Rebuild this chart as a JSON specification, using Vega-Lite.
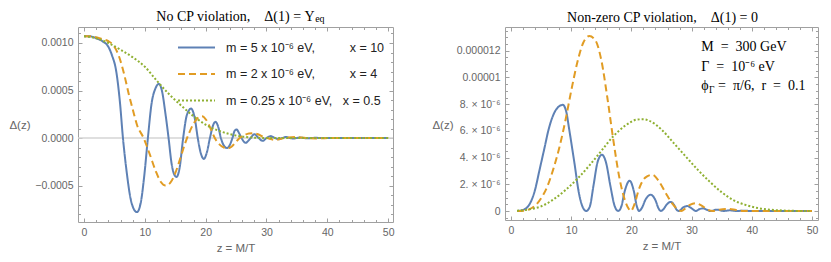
{
  "$schema": "https://vega.github.io/schema/vega-lite/v6.json",
  "background": "white",
  "padding": {"left": 8, "top": 9, "right": 5, "bottom": 5},
  "datasets": {
    "left": [
      {"s":"a","z":0,"v":0.00107},{"s":"a","z":1,"v":0.00107},{"s":"a","z":2,"v":0.00105},{"s":"a","z":3,"v":0.00102},{"s":"a","z":4,"v":0.00096},{"s":"a","z":4.6,"v":0.00087},{"s":"a","z":5.3,"v":0.0007},{"s":"a","z":5.9,"v":0.00038},{"s":"a","z":6.4,"v":0},{"s":"a","z":7.0,"v":-0.00035},{"s":"a","z":7.6,"v":-0.00062},{"s":"a","z":8.2,"v":-0.00075},{"s":"a","z":8.7,"v":-0.00078},{"s":"a","z":9.3,"v":-0.00069},{"s":"a","z":9.9,"v":-0.0004},{"s":"a","z":10.5,"v":0},{"s":"a","z":11.1,"v":0.00036},{"s":"a","z":11.8,"v":0.00053},{"s":"a","z":12.3,"v":0.00057},{"s":"a","z":12.8,"v":0.0005},{"s":"a","z":13.4,"v":0.00025},{"s":"a","z":13.9,"v":0},{"s":"a","z":14.4,"v":-0.00027},{"s":"a","z":14.8,"v":-0.00038},{"s":"a","z":15.2,"v":-0.00041},{"s":"a","z":15.7,"v":-0.00032},{"s":"a","z":16.3,"v":0},{"s":"a","z":16.9,"v":0.00024},{"s":"a","z":17.6,"v":0.00031},{"s":"a","z":18.2,"v":0.00021},{"s":"a","z":18.7,"v":0},{"s":"a","z":19.2,"v":-0.00016},{"s":"a","z":19.7,"v":-0.00022},{"s":"a","z":20.2,"v":-0.00015},{"s":"a","z":20.7,"v":0},{"s":"a","z":21.2,"v":0.00013},{"s":"a","z":21.6,"v":0.00017},{"s":"a","z":22.1,"v":0.00011},{"s":"a","z":22.5,"v":0},{"s":"a","z":23.0,"v":-0.00008},{"s":"a","z":23.5,"v":-0.000105},{"s":"a","z":24.0,"v":-0.00007},{"s":"a","z":24.4,"v":0},{"s":"a","z":24.8,"v":0.00008},{"s":"a","z":25.1,"v":0.00009},{"s":"a","z":25.5,"v":0.00005},{"s":"a","z":25.9,"v":0},{"s":"a","z":26.3,"v":-0.00004},{"s":"a","z":26.6,"v":-0.00005},{"s":"a","z":27.0,"v":-0.00003},{"s":"a","z":27.4,"v":0},{"s":"a","z":28.0,"v":0.00004},{"s":"a","z":28.7,"v":0},{"s":"a","z":29.4,"v":-0.00003},{"s":"a","z":30.0,"v":0},{"s":"a","z":30.7,"v":0.00002},{"s":"a","z":31.4,"v":0},{"s":"a","z":32.0,"v":-0.000012},{"s":"a","z":32.6,"v":0},{"s":"a","z":33.2,"v":0.00001},{"s":"a","z":33.8,"v":0},{"s":"a","z":34.4,"v":-0.000006},{"s":"a","z":35.0,"v":0},{"s":"a","z":35.5,"v":0.000005},{"s":"a","z":36.1,"v":0},{"s":"a","z":36.7,"v":-0.000003},{"s":"a","z":37.3,"v":0},{"s":"a","z":38,"v":0.000002},{"s":"a","z":39,"v":0},{"s":"a","z":50,"v":0},
      {"s":"b","z":0,"v":0.00107},{"s":"b","z":1,"v":0.00107},{"s":"b","z":2,"v":0.00106},{"s":"b","z":3,"v":0.00104},{"s":"b","z":4,"v":0.00102},{"s":"b","z":5,"v":0.00096},{"s":"b","z":5.8,"v":0.00085},{"s":"b","z":6.6,"v":0.00067},{"s":"b","z":7.4,"v":0.00045},{"s":"b","z":8.1,"v":0.00028},{"s":"b","z":8.7,"v":0.00014},{"s":"b","z":9.8,"v":0},{"s":"b","z":10.8,"v":-0.00017},{"s":"b","z":11.8,"v":-0.00035},{"s":"b","z":12.6,"v":-0.00046},{"s":"b","z":13.4,"v":-0.0005},{"s":"b","z":14.2,"v":-0.00047},{"s":"b","z":15.0,"v":-0.00037},{"s":"b","z":15.8,"v":-0.00022},{"s":"b","z":16.6,"v":-0.00006},{"s":"b","z":17.2,"v":0.00004},{"s":"b","z":18.0,"v":0.00015},{"s":"b","z":18.7,"v":0.00021},{"s":"b","z":19.4,"v":0.00023},{"s":"b","z":20.1,"v":0.00019},{"s":"b","z":20.8,"v":0.0001},{"s":"b","z":21.5,"v":0},{"s":"b","z":22.3,"v":-0.00007},{"s":"b","z":23.0,"v":-0.0001},{"s":"b","z":23.6,"v":-0.00011},{"s":"b","z":24.3,"v":-0.00009},{"s":"b","z":25.0,"v":-0.00004},{"s":"b","z":25.6,"v":0},{"s":"b","z":26.4,"v":0.00003},{"s":"b","z":27.1,"v":0.000048},{"s":"b","z":27.8,"v":0.00005},{"s":"b","z":28.6,"v":0.00004},{"s":"b","z":29.5,"v":0.00001},{"s":"b","z":30.1,"v":0},{"s":"b","z":31.5,"v":-0.00002},{"s":"b","z":33.0,"v":0},{"s":"b","z":34.8,"v":0.00001},{"s":"b","z":36.5,"v":0},{"s":"b","z":38.5,"v":-0.000004},{"s":"b","z":40.5,"v":0},{"s":"b","z":50,"v":0},
      {"s":"c","z":0,"v":0.00107},{"s":"c","z":2,"v":0.00105},{"s":"c","z":4,"v":0.001},{"s":"c","z":6,"v":0.00093},{"s":"c","z":8,"v":0.00085},{"s":"c","z":10,"v":0.00075},{"s":"c","z":12,"v":0.0006},{"s":"c","z":14,"v":0.00046},{"s":"c","z":16,"v":0.00034},{"s":"c","z":18,"v":0.00023},{"s":"c","z":20,"v":0.00014},{"s":"c","z":22,"v":0.00008},{"s":"c","z":24,"v":0.00004},{"s":"c","z":26,"v":0.000015},{"s":"c","z":28,"v":0.000004},{"s":"c","z":30,"v":0},{"s":"c","z":50,"v":0}
    ],
    "right": [
      {"s":"a","z":1,"v":0},{"s":"a","z":2,"v":8e-8},{"s":"a","z":2.5,"v":2e-7},{"s":"a","z":3,"v":4.5e-7},{"s":"a","z":4,"v":1.6e-6},{"s":"a","z":4.7,"v":3.0e-6},{"s":"a","z":5.5,"v":4.6e-6},{"s":"a","z":6.3,"v":6.2e-6},{"s":"a","z":7.5,"v":7.6e-6},{"s":"a","z":8.6,"v":7.95e-6},{"s":"a","z":9.2,"v":7.4e-6},{"s":"a","z":9.6,"v":6.3e-6},{"s":"a","z":10.5,"v":3.7e-6},{"s":"a","z":11.3,"v":1.3e-6},{"s":"a","z":11.9,"v":3e-7},{"s":"a","z":12.5,"v":0},{"s":"a","z":13.1,"v":3.5e-7},{"s":"a","z":13.7,"v":1.9e-6},{"s":"a","z":14.4,"v":3.7e-6},{"s":"a","z":15.1,"v":4.22e-6},{"s":"a","z":15.8,"v":3.6e-6},{"s":"a","z":16.5,"v":1.9e-6},{"s":"a","z":17.2,"v":4e-7},{"s":"a","z":17.8,"v":0},{"s":"a","z":18.3,"v":3e-7},{"s":"a","z":18.9,"v":1.5e-6},{"s":"a","z":19.7,"v":2.27e-6},{"s":"a","z":20.4,"v":1.5e-6},{"s":"a","z":20.9,"v":3.5e-7},{"s":"a","z":21.3,"v":0},{"s":"a","z":21.7,"v":2e-7},{"s":"a","z":22.4,"v":9e-7},{"s":"a","z":23.2,"v":1.22e-6},{"s":"a","z":24.0,"v":8e-7},{"s":"a","z":24.5,"v":2e-7},{"s":"a","z":24.9,"v":0},{"s":"a","z":25.3,"v":1.2e-7},{"s":"a","z":25.9,"v":5e-7},{"s":"a","z":26.5,"v":6.8e-7},{"s":"a","z":27.1,"v":4.5e-7},{"s":"a","z":27.5,"v":1e-7},{"s":"a","z":27.9,"v":0},{"s":"a","z":28.6,"v":2.7e-7},{"s":"a","z":29.3,"v":3.7e-7},{"s":"a","z":30.0,"v":2e-7},{"s":"a","z":30.7,"v":0},{"s":"a","z":31.3,"v":1.4e-7},{"s":"a","z":31.9,"v":2e-7},{"s":"a","z":32.5,"v":1e-7},{"s":"a","z":33.1,"v":0},{"s":"a","z":34.2,"v":1e-7},{"s":"a","z":35.3,"v":0},{"s":"a","z":36.4,"v":5e-8},{"s":"a","z":37.5,"v":0},{"s":"a","z":38.6,"v":2e-8},{"s":"a","z":40,"v":0},{"s":"a","z":50,"v":0},
      {"s":"b","z":1,"v":0},{"s":"b","z":2,"v":2e-8},{"s":"b","z":3,"v":1.2e-7},{"s":"b","z":4,"v":4e-7},{"s":"b","z":5,"v":9.5e-7},{"s":"b","z":6,"v":1.8e-6},{"s":"b","z":7,"v":3.1e-6},{"s":"b","z":8,"v":4.7e-6},{"s":"b","z":9,"v":6.7e-6},{"s":"b","z":10,"v":9.0e-6},{"s":"b","z":11,"v":1.11e-5},{"s":"b","z":12,"v":1.26e-5},{"s":"b","z":13,"v":1.31e-5},{"s":"b","z":14,"v":1.28e-5},{"s":"b","z":15,"v":1.13e-5},{"s":"b","z":16,"v":8.5e-6},{"s":"b","z":17,"v":5.3e-6},{"s":"b","z":18,"v":2.5e-6},{"s":"b","z":19,"v":7e-7},{"s":"b","z":19.5,"v":2e-7},{"s":"b","z":19.9,"v":0},{"s":"b","z":20.5,"v":5e-7},{"s":"b","z":21.3,"v":1.7e-6},{"s":"b","z":22.3,"v":2.5e-6},{"s":"b","z":23.5,"v":2.72e-6},{"s":"b","z":24.6,"v":2.2e-6},{"s":"b","z":25.7,"v":1.35e-6},{"s":"b","z":26.8,"v":5.5e-7},{"s":"b","z":27.7,"v":1.2e-7},{"s":"b","z":28.3,"v":0},{"s":"b","z":29.0,"v":2e-7},{"s":"b","z":29.8,"v":4.8e-7},{"s":"b","z":30.7,"v":5.8e-7},{"s":"b","z":31.6,"v":4.2e-7},{"s":"b","z":32.6,"v":1.2e-7},{"s":"b","z":33.5,"v":0},{"s":"b","z":34.6,"v":1e-7},{"s":"b","z":36.0,"v":1.5e-7},{"s":"b","z":37.4,"v":8e-8},{"s":"b","z":38.8,"v":0},{"s":"b","z":50,"v":0},
      {"s":"c","z":1,"v":2e-8},{"s":"c","z":3,"v":1.2e-7},{"s":"c","z":5,"v":3.5e-7},{"s":"c","z":7,"v":8.5e-7},{"s":"c","z":9,"v":1.55e-6},{"s":"c","z":11,"v":2.4e-6},{"s":"c","z":13,"v":3.4e-6},{"s":"c","z":15,"v":4.5e-6},{"s":"c","z":17,"v":5.6e-6},{"s":"c","z":19,"v":6.4e-6},{"s":"c","z":21,"v":6.85e-6},{"s":"c","z":22,"v":6.87e-6},{"s":"c","z":23,"v":6.75e-6},{"s":"c","z":25,"v":6.1e-6},{"s":"c","z":27,"v":5.1e-6},{"s":"c","z":29,"v":4.1e-6},{"s":"c","z":31,"v":3.1e-6},{"s":"c","z":33,"v":2.2e-6},{"s":"c","z":35,"v":1.4e-6},{"s":"c","z":37,"v":8e-7},{"s":"c","z":39,"v":4.5e-7},{"s":"c","z":41,"v":2.2e-7},{"s":"c","z":43,"v":1e-7},{"s":"c","z":45,"v":4e-8},{"s":"c","z":47,"v":1e-8},{"s":"c","z":50,"v":0}
    ]
  },
  "spacing": 112,
  "bounds": "flush",
  "resolve": {"scale": {"x": "independent", "y": "independent", "color": "independent", "strokeDash": "independent"}, "legend": {"color": "independent", "strokeDash": "independent"}},
  "hconcat": [
    {
      "width": 315,
      "height": 195,
      "data": {"name": "left"},
      "title": {"text": "No CP violation,\u00a0\u00a0\u00a0\u00a0Δ(1) = Y", "dx": 0, "offset": -10},
      "resolve": {"axis": {"x": "independent", "y": "independent"}},
      "layer": [
        {
          "data": {"values": [{}]},
          "mark": {"type": "rule", "color": "#d4d4d4", "strokeWidth": 1.3},
          "encoding": {"y": {"datum": 0, "type": "quantitative", "scale": {"domain": [-0.000884, 0.0011684], "nice": false, "zero": false}, "axis": null}}
        },
        {
          "mark": {"type": "point", "opacity": 0},
          "encoding": {
            "x": {"field": "z", "type": "quantitative", "scale": {"domain": [-0.99, 50.8], "nice": false, "zero": false}, "axis": {"orient": "bottom", "values": [2,4,6,8,12,14,16,18,22,24,26,28,32,34,36,38,42,44,46,48], "tickSize": -2.5, "labels": false, "title": null}},
            "y": {"field": "v", "type": "quantitative", "scale": {"domain": [-0.000884, 0.0011684], "nice": false, "zero": false}, "axis": {"orient": "left", "values": [-0.0008,-0.0007,-0.0006,-0.0004,-0.0003,-0.0002,-0.0001,0.0001,0.0002,0.0003,0.0004,0.0006,0.0007,0.0008,0.0009,0.0011], "tickSize": -2.5, "labels": false, "title": null}}
          }
        },
        {
          "mark": {"type": "point", "opacity": 0},
          "encoding": {
            "x": {"field": "z", "type": "quantitative", "scale": {"domain": [-0.99, 50.8], "nice": false, "zero": false}, "axis": {"orient": "top", "values": [0,10,20,30,40,50], "tickSize": -4, "labels": false, "title": null}},
            "y": {"field": "v", "type": "quantitative", "scale": {"domain": [-0.000884, 0.0011684], "nice": false, "zero": false}, "axis": {"orient": "right", "values": [-0.0005,0,0.0005,0.001], "tickSize": -4, "labels": false, "title": null}}
          }
        },
        {
          "mark": {"type": "point", "opacity": 0},
          "encoding": {
            "x": {"field": "z", "type": "quantitative", "scale": {"domain": [-0.99, 50.8], "nice": false, "zero": false}, "axis": {"orient": "top", "values": [2,4,6,8,12,14,16,18,22,24,26,28,32,34,36,38,42,44,46,48], "tickSize": -2.5, "labels": false, "title": null}},
            "y": {"field": "v", "type": "quantitative", "scale": {"domain": [-0.000884, 0.0011684], "nice": false, "zero": false}, "axis": {"orient": "right", "values": [-0.0008,-0.0007,-0.0006,-0.0004,-0.0003,-0.0002,-0.0001,0.0001,0.0002,0.0003,0.0004,0.0006,0.0007,0.0008,0.0009,0.0011], "tickSize": -2.5, "labels": false, "title": null}}
          }
        },
        {
          "mark": {"type": "line", "strokeWidth": 2, "interpolate": "monotone"},
          "encoding": {
            "x": {"field": "z", "type": "quantitative", "scale": {"domain": [-0.99, 50.8], "nice": false, "zero": false}, "axis": {"orient": "bottom", "values": [0,10,20,30,40,50], "tickSize": -4, "title": "z = M/T"}},
            "y": {"field": "v", "type": "quantitative", "scale": {"domain": [-0.000884, 0.0011684], "nice": false, "zero": false}, "axis": {"orient": "left", "values": [-0.0005,0,0.0005,0.001], "format": ".4f", "tickSize": -4, "title": "Δ(z)", "titleAngle": 0, "titleX": -48, "titleY": 98, "titleAlign": "right", "titleBaseline": "middle"}},
            "color": {"field": "s", "type": "nominal", "scale": {"domain": ["a","b","c"], "range": ["#5E81B5","#E19C24","#8FB032"]}, "legend": {"labelExpr": "datum.label == 'a' ? 'm = 5 x 10⁻⁶ eV,\u00a0\u00a0\u00a0\u00a0\u00a0\u00a0\u00a0\u00a0\u00a0 x = 10' : datum.label == 'b' ? 'm = 2 x 10⁻⁶ eV,\u00a0\u00a0\u00a0\u00a0\u00a0\u00a0\u00a0\u00a0\u00a0 x = 4' : 'm = 0.25 x 10⁻⁶ eV,\u00a0\u00a0 x = 0.5'"}},
            "strokeDash": {"field": "s", "type": "nominal", "scale": {"domain": ["a","b","c"], "range": [[1,0],[7,4],[2,2]]}, "legend": {"labelExpr": "datum.label == 'a' ? 'm = 5 x 10⁻⁶ eV,\u00a0\u00a0\u00a0\u00a0\u00a0\u00a0\u00a0\u00a0\u00a0 x = 10' : datum.label == 'b' ? 'm = 2 x 10⁻⁶ eV,\u00a0\u00a0\u00a0\u00a0\u00a0\u00a0\u00a0\u00a0\u00a0 x = 4' : 'm = 0.25 x 10⁻⁶ eV,\u00a0\u00a0 x = 0.5'"}}
          }
        },
        {
          "data": {"values": [{}]},
          "mark": {"type": "text", "font": "Liberation Serif", "fontSize": 10, "baseline": "alphabetic", "align": "left", "color": "#000"},
          "encoding": {
            "x": {"datum": 38.0, "type": "quantitative", "scale": {"domain": [-0.99, 50.8], "nice": false, "zero": false}, "axis": null},
            "y": {"datum": 0.0012158, "type": "quantitative", "scale": {"domain": [-0.000884, 0.0011684], "nice": false, "zero": false}, "axis": null},
            "text": {"value": "eq"}
          }
        }
      ]
    },
    {
      "width": 313,
      "height": 193,
      "data": {"name": "right"},
      "title": {"text": "Non-zero CP violation,\u00a0\u00a0\u00a0\u00a0Δ(1) = 0", "dx": 1, "offset": 1.5},
      "resolve": {"axis": {"x": "independent", "y": "independent"}},
      "layer": [
        {
          "mark": {"type": "point", "opacity": 0},
          "encoding": {
            "x": {"field": "z", "type": "quantitative", "scale": {"domain": [-1, 51], "nice": false, "zero": false}, "axis": {"orient": "bottom", "values": [2,4,6,8,12,14,16,18,22,24,26,28,32,34,36,38,42,44,46,48], "tickSize": -2.5, "labels": false, "title": null}},
            "y": {"field": "v", "type": "quantitative", "scale": {"domain": [-6.74e-7, 1.378e-5], "nice": false, "zero": false}, "axis": {"orient": "left", "values": [-5e-7,5e-7,1e-6,1.5e-6,2.5e-6,3e-6,3.5e-6,4.5e-6,5e-6,5.5e-6,6.5e-6,7e-6,7.5e-6,8.5e-6,9e-6,9.5e-6,1.05e-5,1.1e-5,1.15e-5,1.25e-5,1.3e-5,1.35e-5], "tickSize": -2.5, "labels": false, "title": null}}
          }
        },
        {
          "mark": {"type": "point", "opacity": 0},
          "encoding": {
            "x": {"field": "z", "type": "quantitative", "scale": {"domain": [-1, 51], "nice": false, "zero": false}, "axis": {"orient": "top", "values": [0,10,20,30,40,50], "tickSize": -4, "labels": false, "title": null}},
            "y": {"field": "v", "type": "quantitative", "scale": {"domain": [-6.74e-7, 1.378e-5], "nice": false, "zero": false}, "axis": {"orient": "right", "values": [0,2e-6,4e-6,6e-6,8e-6,1e-5,1.2e-5], "tickSize": -4, "labels": false, "title": null}}
          }
        },
        {
          "mark": {"type": "point", "opacity": 0},
          "encoding": {
            "x": {"field": "z", "type": "quantitative", "scale": {"domain": [-1, 51], "nice": false, "zero": false}, "axis": {"orient": "top", "values": [2,4,6,8,12,14,16,18,22,24,26,28,32,34,36,38,42,44,46,48], "tickSize": -2.5, "labels": false, "title": null}},
            "y": {"field": "v", "type": "quantitative", "scale": {"domain": [-6.74e-7, 1.378e-5], "nice": false, "zero": false}, "axis": {"orient": "right", "values": [-5e-7,5e-7,1e-6,1.5e-6,2.5e-6,3e-6,3.5e-6,4.5e-6,5e-6,5.5e-6,6.5e-6,7e-6,7.5e-6,8.5e-6,9e-6,9.5e-6,1.05e-5,1.1e-5,1.15e-5,1.25e-5,1.3e-5,1.35e-5], "tickSize": -2.5, "labels": false, "title": null}}
          }
        },
        {
          "mark": {"type": "line", "strokeWidth": 2, "interpolate": "monotone"},
          "encoding": {
            "x": {"field": "z", "type": "quantitative", "scale": {"domain": [-1, 51], "nice": false, "zero": false}, "axis": {"orient": "bottom", "values": [0,10,20,30,40,50], "tickSize": -4, "title": "z = M/T"}},
            "y": {"field": "v", "type": "quantitative", "scale": {"domain": [-6.74e-7, 1.378e-5], "nice": false, "zero": false}, "axis": {"orient": "left", "values": [0,2e-6,4e-6,6e-6,8e-6,1e-5,1.2e-5], "labelExpr": "datum.value == 0 ? '0' : datum.value < 9e-6 ? format(datum.value * 1e6, '.0f') + '. × 10⁻⁶' : datum.value < 1.1e-5 ? '0.00001' : '0.000012'", "tickSize": -4, "title": "Δ(z)", "titleAngle": 0, "titleX": -52, "titleY": 98, "titleAlign": "right", "titleBaseline": "middle"}},
            "color": {"field": "s", "type": "nominal", "scale": {"domain": ["a","b","c"], "range": ["#5E81B5","#E19C24","#8FB032"]}, "legend": null},
            "strokeDash": {"field": "s", "type": "nominal", "scale": {"domain": ["a","b","c"], "range": [[1,0],[7,4],[2,2]]}, "legend": null}
          }
        },
        {
          "data": {"values": [{}]},
          "mark": {"type": "text", "font": "Liberation Serif", "fontSize": 14, "baseline": "alphabetic", "align": "left", "color": "#000"},
          "encoding": {
            "x": {"datum": 31.6, "type": "quantitative", "scale": {"domain": [-1, 51], "nice": false, "zero": false}, "axis": null},
            "y": {"datum": 1.199e-5, "type": "quantitative", "scale": {"domain": [-6.74e-7, 1.378e-5], "nice": false, "zero": false}, "axis": null},
            "text": {"value": "M\u00a0 =\u00a0 300 GeV"}
          }
        },
        {
          "data": {"values": [{}]},
          "mark": {"type": "text", "font": "Liberation Serif", "fontSize": 14, "baseline": "alphabetic", "align": "left", "color": "#000"},
          "encoding": {
            "x": {"datum": 31.6, "type": "quantitative", "scale": {"domain": [-1, 51], "nice": false, "zero": false}, "axis": null},
            "y": {"datum": 1.049e-5, "type": "quantitative", "scale": {"domain": [-6.74e-7, 1.378e-5], "nice": false, "zero": false}, "axis": null},
            "text": {"value": "Γ\u00a0 =\u00a0 10⁻⁶ eV"}
          }
        },
        {
          "data": {"values": [{}]},
          "mark": {"type": "text", "font": "Liberation Serif", "fontSize": 14, "baseline": "alphabetic", "align": "left", "color": "#000"},
          "encoding": {
            "x": {"datum": 31.6, "type": "quantitative", "scale": {"domain": [-1, 51], "nice": false, "zero": false}, "axis": null},
            "y": {"datum": 9.06e-6, "type": "quantitative", "scale": {"domain": [-6.74e-7, 1.378e-5], "nice": false, "zero": false}, "axis": null},
            "text": {"value": "ϕ"}
          }
        },
        {
          "data": {"values": [{}]},
          "mark": {"type": "text", "font": "Liberation Serif", "fontSize": 9.5, "baseline": "alphabetic", "align": "left", "color": "#000"},
          "encoding": {
            "x": {"datum": 32.9, "type": "quantitative", "scale": {"domain": [-1, 51], "nice": false, "zero": false}, "axis": null},
            "y": {"datum": 8.84e-6, "type": "quantitative", "scale": {"domain": [-6.74e-7, 1.378e-5], "nice": false, "zero": false}, "axis": null},
            "text": {"value": "Γ"}
          }
        },
        {
          "data": {"values": [{}]},
          "mark": {"type": "text", "font": "Liberation Serif", "fontSize": 14, "baseline": "alphabetic", "align": "left", "color": "#000"},
          "encoding": {
            "x": {"datum": 34.4, "type": "quantitative", "scale": {"domain": [-1, 51], "nice": false, "zero": false}, "axis": null},
            "y": {"datum": 9.06e-6, "type": "quantitative", "scale": {"domain": [-6.74e-7, 1.378e-5], "nice": false, "zero": false}, "axis": null},
            "text": {"value": "=\u00a0 π/6,\u00a0 r\u00a0 =\u00a0 0.1"}
          }
        }
      ]
    }
  ],
  "config": {
    "view": {"stroke": "#a0a0a0", "strokeWidth": 1},
    "axis": {"labelFont": "Liberation Sans", "labelFontSize": 10.5, "labelColor": "#666666", "titleFont": "Liberation Sans", "titleFontSize": 11.5, "titleColor": "#666666", "titleFontWeight": "normal", "tickColor": "#a0a0a0", "tickWidth": 1, "domain": false, "grid": false, "labelPadding": 9, "titlePadding": 5},
    "title": {"font": "Liberation Serif", "fontSize": 14, "fontWeight": "normal", "color": "#000000", "anchor": "middle", "frame": "group", "baseline": "alphabetic"},
    "legend": {"orient": "none", "legendX": 99, "legendY": 1, "title": null, "symbolType": "stroke", "symbolSize": 1369, "symbolStrokeWidth": 2, "labelFont": "Liberation Sans", "labelFontSize": 12.5, "labelColor": "#222222", "labelOffset": 10, "padding": 0, "rowPadding": 0.5, "labelLimit": 400}
  }
}
